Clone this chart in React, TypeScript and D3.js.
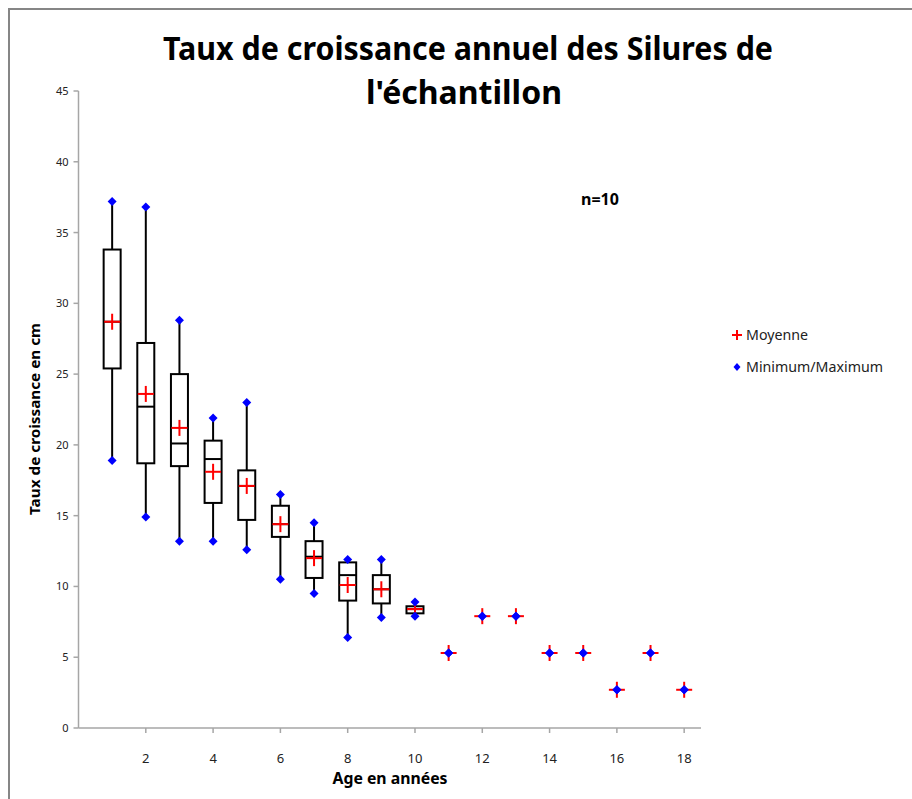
import React from 'react';
import * as d3 from 'd3';

// ages 1..18, boxes only for the first ten
const ages = [1, 2, 3, 4, 5, 6, 7, 8, 9, 10, 11, 12, 13, 14, 15, 16, 17, 18];
const means = [28.7, 23.6, 21.2, 18.1, 17.1, 14.4, 12.0, 10.1, 9.8, 8.4, 5.3, 7.9, 7.9, 5.3, 5.3, 2.7, 5.3, 2.7];
const mins = [18.9, 14.9, 13.2, 13.2, 12.6, 10.5, 9.5, 6.4, 7.8, 7.9, 5.3, 7.9, 7.9, 5.3, 5.3, 2.7, 5.3, 2.7];
const maxs = [37.2, 36.8, 28.8, 21.9, 23.0, 16.5, 14.5, 11.9, 11.9, 8.9, 5.3, 7.9, 7.9, 5.3, 5.3, 2.7, 5.3, 2.7];

const boxAges = [1, 2, 3, 4, 5, 6, 7, 8, 9, 10];
const q1 = [25.4, 18.7, 18.5, 15.9, 14.7, 13.5, 10.6, 9.0, 8.8, 8.1];
const medians = [28.7, 22.7, 20.1, 19.0, 17.1, 14.4, 12.1, 10.8, 9.8, 8.4];
const q3 = [33.8, 27.2, 25.0, 20.3, 18.2, 15.7, 13.2, 11.7, 10.8, 8.6];

const xTickValues = [2, 4, 6, 8, 10, 12, 14, 16, 18];
const yTickValues = [0, 5, 10, 15, 20, 25, 30, 35, 40, 45];

const FONT = '"Noto Sans", "Open Sans", sans-serif';

function Diamond({ cx, cy }: { cx: number; cy: number }) {
  const r = 4.5;
  return (
    <path
      d={`M${cx},${cy - r}L${cx + r},${cy}L${cx},${cy + r}L${cx - r},${cy}Z`}
      fill="#0000ff"
    />
  );
}

function Plus({ cx, cy, size }: { cx: number; cy: number; size: number }) {
  return (
    <g stroke="#ff0000" strokeWidth={2}>
      <line x1={cx - size} x2={cx + size} y1={cy} y2={cy} />
      <line x1={cx} x2={cx} y1={cy - size} y2={cy + size} />
    </g>
  );
}

export default function App() {
  const width = 912;
  const height = 799;

  const x = d3.scaleLinear().domain([0, 18.5]).range([78.5, 701]);
  const y = d3.scaleLinear().domain([0, 45]).range([728, 91]);
  const boxW = 17;

  return (
    <svg
      width={width}
      height={height}
      style={{ position: 'absolute', left: 0, top: 0, background: '#fff' }}
    >
      {/* chart frame */}
      <rect x={9} y={9} width={930} height={830} fill="#fff" stroke="#868686" strokeWidth={2} />

      {/* title */}
      <text
        x={468}
        y={60}
        textAnchor="middle"
        fontFamily={FONT}
        fontWeight="bold"
        fontSize={33}
        textLength={610}
        lengthAdjust="spacingAndGlyphs"
        fill="#000"
      >
        Taux de croissance annuel des Silures de
      </text>
      <text
        x={464}
        y={104}
        textAnchor="middle"
        fontFamily={FONT}
        fontWeight="bold"
        fontSize={33}
        textLength={196}
        lengthAdjust="spacingAndGlyphs"
        fill="#000"
      >
        l'échantillon
      </text>

      {/* Y axis */}
      <g>
        <line x1={x(0)} x2={x(0)} y1={y(45)} y2={y(0)} stroke="#a6a6a6" strokeWidth={1.5} />
        {yTickValues.map(t => (
          <g key={t}>
            <line x1={x(0) - 5} x2={x(0)} y1={y(t)} y2={y(t)} stroke="#a6a6a6" strokeWidth={1.5} />
            <text
              x={x(0) - 10}
              y={y(t) + 4}
              textAnchor="end"
              fontFamily={FONT}
              fontSize={11}
              fill="#222"
            >
              {t}
            </text>
          </g>
        ))}
        <text
          x={0}
          y={0}
          transform={`translate(40,419) rotate(-90)`}
          textAnchor="middle"
          fontFamily={FONT}
          fontWeight="bold"
          fontSize={15}
          textLength={192}
          lengthAdjust="spacingAndGlyphs"
          fill="#000"
        >
          Taux de croissance en cm
        </text>
      </g>

      {/* X axis */}
      <g>
        <line x1={x(0)} x2={x(18.5)} y1={y(0)} y2={y(0)} stroke="#a6a6a6" strokeWidth={1.5} />
        {xTickValues.map(t => (
          <g key={t}>
            <line x1={x(t)} x2={x(t)} y1={y(0)} y2={y(0) + 5} stroke="#a6a6a6" strokeWidth={1.5} />
            <text
              x={x(t)}
              y={y(0) + 35}
              textAnchor="middle"
              fontFamily={FONT}
              fontSize={13}
              fill="#222"
            >
              {t}
            </text>
          </g>
        ))}
        <text
          x={390}
          y={784}
          textAnchor="middle"
          fontFamily={FONT}
          fontWeight="bold"
          fontSize={16}
          textLength={115}
          lengthAdjust="spacingAndGlyphs"
          fill="#000"
        >
          Age en années
        </text>
      </g>

      {/* boxes and whiskers */}
      {boxAges.map((a, i) => {
        const cx = x(a);
        return (
          <g key={a} stroke="#000" strokeWidth={2} fill="none">
            <line x1={cx} x2={cx} y1={y(maxs[i])} y2={y(q3[i])} />
            <line x1={cx} x2={cx} y1={y(q1[i])} y2={y(mins[i])} />
            <rect x={cx - boxW / 2} y={y(q3[i])} width={boxW} height={y(q1[i]) - y(q3[i])} fill="#fff" />
            <line x1={cx - boxW / 2} x2={cx + boxW / 2} y1={y(medians[i])} y2={y(medians[i])} />
          </g>
        );
      })}

      {/* means */}
      {ages.map((a, i) => (
        <Plus key={a} cx={x(a)} cy={y(means[i])} size={8} />
      ))}

      {/* min / max */}
      {ages.map((a, i) => (
        <g key={a}>
          <Diamond cx={x(a)} cy={y(mins[i])} />
          <Diamond cx={x(a)} cy={y(maxs[i])} />
        </g>
      ))}

      {/* n annotation */}
      <text x={600} y={205} textAnchor="middle" fontFamily={FONT} fontWeight="bold" fontSize={16} fill="#000">
        n=10
      </text>

      {/* legend */}
      <g>
        <Plus cx={737} cy={335} size={5} />
        <text x={746} y={340} fontFamily={FONT} fontSize={14} fill="#222" textLength={62} lengthAdjust="spacingAndGlyphs">
          Moyenne
        </text>
        <path d="M737,363L740.5,367L737,371L733.5,367Z" fill="#0000ff" />
        <text x={746} y={372} fontFamily={FONT} fontSize={14} fill="#222" textLength={137} lengthAdjust="spacingAndGlyphs">
          Minimum/Maximum
        </text>
      </g>
    </svg>
  );
}
